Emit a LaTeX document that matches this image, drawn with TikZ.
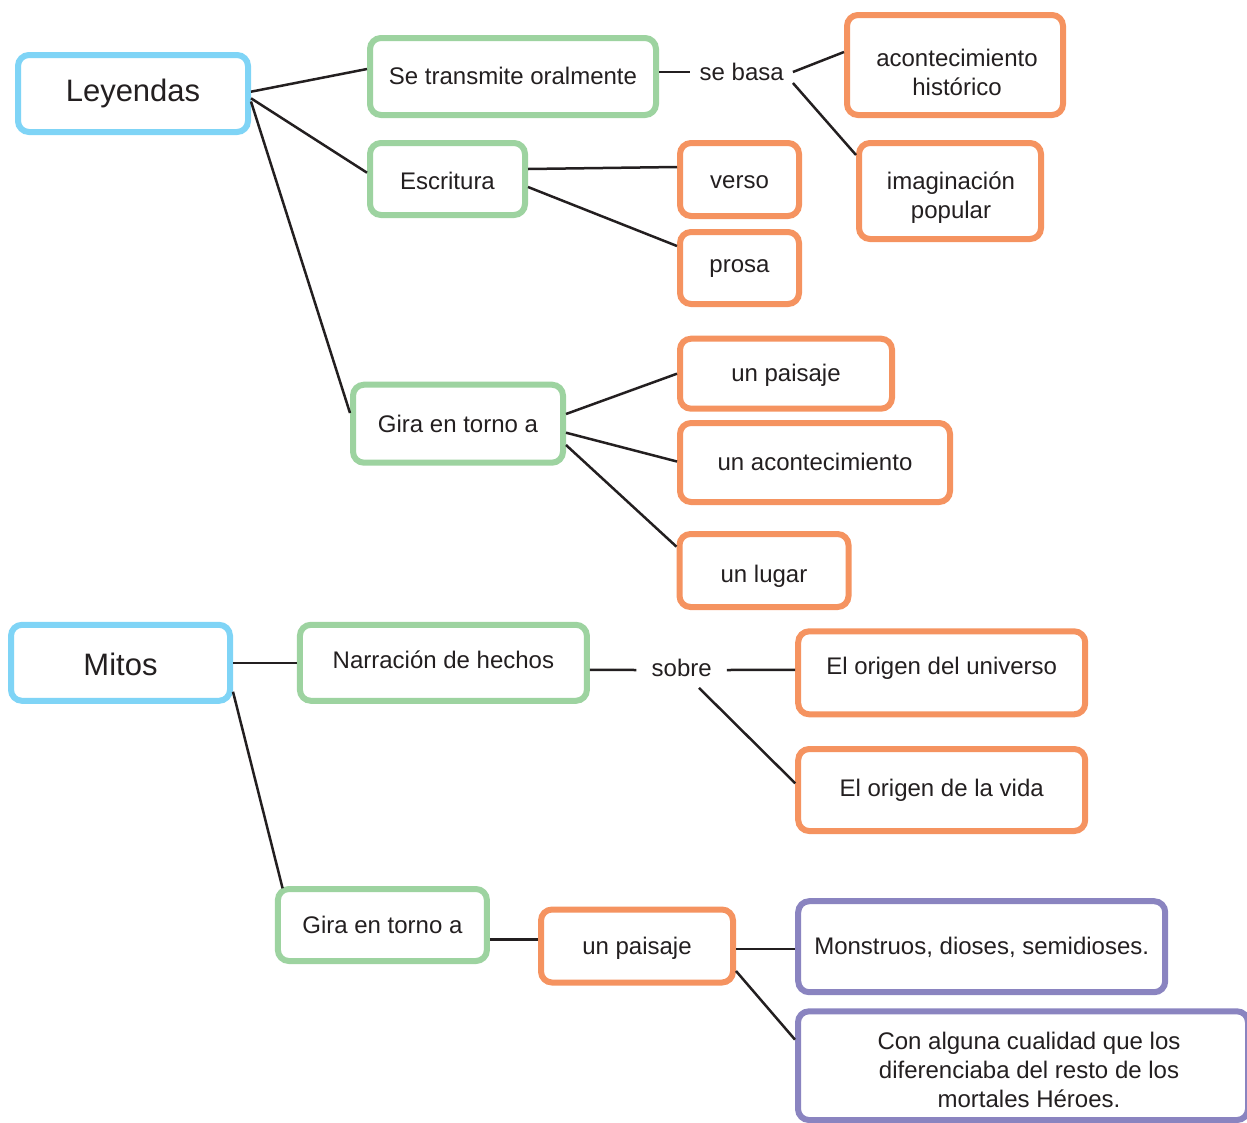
\documentclass[tikz,border=0pt]{standalone}
\usepackage{fontspec}
\setmainfont{Liberation Sans}
\usetikzlibrary{calc}
\definecolor{cblue}{RGB}{127,212,246}
\definecolor{cgreen}{RGB}{157,211,160}
\definecolor{corange}{RGB}{245,147,96}
\definecolor{cpurple}{RGB}{138,132,192}
\definecolor{txt}{RGB}{35,31,32}
\tikzset{
  box/.style={draw, line width=6pt, rounded corners=11pt, fill=white, inner sep=0pt,
    text height=19pt, text depth=3pt, font=\fontsize{24}{29}\selectfont, text=txt},
  bluebox/.style={box, draw=cblue, font=\fontsize{31}{36}\selectfont, text height=22pt, text depth=6.5pt},
  greenbox/.style={box, draw=cgreen},
  orangebox/.style={box, draw=corange},
  purplebox/.style={box, draw=cpurple},
  lbl/.style={inner ysep=0pt, text height=19pt, text depth=3pt, font=\fontsize{24}{29}\selectfont, text=txt},
  txtblock/.style={align=center, inner sep=0pt, text depth=3pt, font=\fontsize{24}{29}\selectfont, text=txt},
  conn/.style={draw=txt, line width=2.5pt}
}
\begin{document}
\begin{tikzpicture}[x=1pt,y=-1pt]
\useasboundingbox (0,0) rectangle (1247,1122);
\clip (0,0) rectangle (1247,1122);
% nodes
\node[bluebox, minimum width=230pt, minimum height=77pt] (ley) at (133,93.5) {Leyendas};
\node[greenbox, minimum width=286pt, minimum height=77pt] (se) at (513,76.5) {Se transmite oralmente};
\node[greenbox, minimum width=155pt, minimum height=72pt] (esc) at (447.5,179) {\raisebox{-2pt}{Escritura}};
\node[greenbox, minimum width=210pt, minimum height=78pt] (gira1) at (458,423.7) {\raisebox{-1pt}{Gira en torno a}};
\node[lbl, inner xsep=9pt] (basa) at (741.7,72) {se basa};
\node[orangebox, minimum width=216pt, minimum height=100pt] (acon) at (955,65) {};
\node[txtblock, text height=48pt] (acontxt) at (957,72.5) {acontecimiento\\histórico};
\node[orangebox, minimum width=182pt, minimum height=96pt] (imag) at (950,191) {};
\node[txtblock, text height=48pt] (imagtxt) at (951,195.8) {imaginación\\popular};
\node[orangebox, minimum width=119pt, minimum height=73pt] (verso) at (739.5,179.5) {\raisebox{-1pt}{verso}};
\node[orangebox, minimum width=119pt, minimum height=72pt] (prosa) at (739.5,268) {\raisebox{4pt}{prosa}};
\node[orangebox, minimum width=212pt, minimum height=70pt] (pais1) at (786,373.7) {un paisaje};
\node[orangebox, minimum width=270pt, minimum height=79pt] (acont2) at (815,462.5) {un acontecimiento};
\node[orangebox, minimum width=169pt, minimum height=73pt] (lugar) at (764,570.5) {\raisebox{-3.5pt}{un lugar}};
\node[bluebox, minimum width=219pt, minimum height=76pt] (mitos) at (120.5,662.8) {\raisebox{-5pt}{Mitos}};
\node[greenbox, minimum width=287pt, minimum height=76pt] (narr) at (443.4,662.8) {\raisebox{2pt}{Narración de hechos}};
\node[lbl, inner xsep=15pt] (sobre) at (681.7,668) {sobre};
\node[orangebox, minimum width=287pt, minimum height=83pt] (univ) at (941.7,672.8) {\raisebox{6pt}{El origen del universo}};
\node[orangebox, minimum width=287pt, minimum height=82pt] (vida) at (941.7,790) {\raisebox{2pt}{El origen de la vida}};
\node[greenbox, minimum width=209pt, minimum height=72pt] (gira2) at (382.4,925) {Gira en torno a};
\node[orangebox, minimum width=192pt, minimum height=73pt] (pais2) at (637,946) {un paisaje};
\node[purplebox, minimum width=367pt, minimum height=91pt] (mons) at (981.7,946.7) {Monstruos, dioses, semidioses.};
\node[purplebox, minimum width=450pt, minimum height=108.7pt] (con) at (1023,1065.65) {};
\node[txtblock, text height=77pt] (contxt) at (1029,1070) {Con alguna cualidad que los\\diferenciaba del resto de los\\mortales Héroes.};
% connectors
\draw[conn] ($(ley.east)+(0,-1.8)$) -- ($(se.west)+(0,-7.5)$);
\draw[conn] ($(ley.east)+(0,4.8)$) -- ($(esc.west)+(0,-6.3)$);
\draw[conn] ($(ley.east)+(0,8)$) -- ($(gira1.west)+(0,-10.7)$);
\draw[conn] ($(se.east)+(0,-4.5)$) -- (basa.west);
\draw[conn] (basa.east) -- ($(acon.west)+(0,-13)$);
\draw[conn] ($(basa.east)+(0,11)$) -- ($(imag.west)+(0,-36)$);
\draw[conn] ($(esc.east)+(0,-10)$) -- ($(verso.west)+(0,-12.5)$);
\draw[conn] ($(esc.east)+(0,8)$) -- ($(prosa.west)+(0,-22)$);
\draw[conn] ($(gira1.east)+(0,-9.7)$) -- (pais1.west);
\draw[conn] ($(gira1.east)+(0,9)$) -- ($(acont2.west)+(0,-1)$);
\draw[conn] ($(gira1.east)+(0,21.3)$) -- ($(lugar.west)+(0,-23.8)$);
\draw[conn] (mitos.east) -- (narr.west);
\draw[conn] ($(mitos.east)+(0,28.9)$) -- ($(gira2.west)+(7.7,-36.7)$);
\draw[conn] ($(narr.east)+(0,7)$) -- ($(sobre.west)+(0,2)$);
\draw[conn] ($(sobre.east)+(0,2)$) -- ($(univ.west)+(0,-3)$);
\draw[conn] ($(sobre.south)+(17.3,8.7)$) -- ($(vida.west)+(0,-6.7)$);
\draw[conn] ($(gira2.east)+(0,14.3)$) -- ($(pais2.west)+(0,-6.7)$);
\draw[conn] ($(pais2.east)+(0,3)$) -- ($(mons.west)+(0,2.3)$);
\draw[conn] ($(pais2.east)+(0,25)$) -- ($(con.west)+(0,-26)$);
\end{tikzpicture}
\end{document}
